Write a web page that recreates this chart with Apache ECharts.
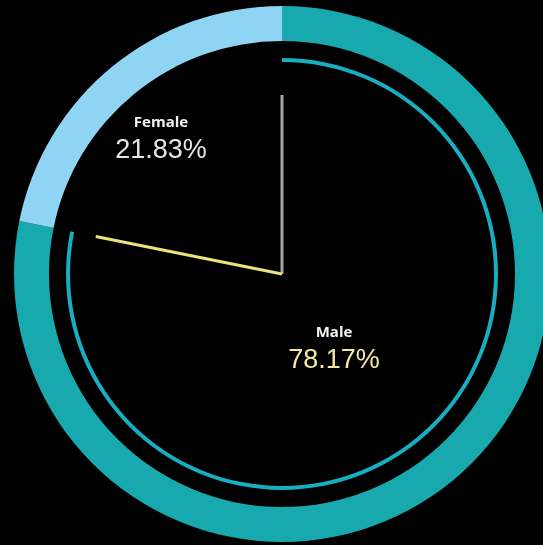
<!DOCTYPE html>
<html>
<head>
<meta charset="utf-8">
<script src="https://cdn.jsdelivr.net/npm/echarts@6/dist/echarts.min.js"></script>
<style>
  html, body { margin: 0; padding: 0; background: #000; }
  #chart { width: 543px; height: 545px; }
</style>
</head>
<body>
<div id="chart"></div>
<script>
const categories = ['Male', 'Female'];
const shares = [78.17, 21.83];
const ringColors = ['#17a9ad', '#8fd4f2'];

const center = [282, 274];

const myChart = echarts.init(document.getElementById('chart'), null, {
  renderer: 'canvas'
});

function pointerGauge(value, length, width, color) {
  return {
    type: 'gauge',
    center: center,
    radius: 216,
    startAngle: 90,
    endAngle: -270,
    min: 0,
    max: 100,
    silent: true,
    axisLine: { show: false },
    axisTick: { show: false },
    splitLine: { show: false },
    axisLabel: { show: false },
    anchor: { show: false },
    title: { show: false },
    detail: { show: false },
    pointer: {
      icon: 'rect',
      length: length,
      width: width,
      itemStyle: { color: color }
    },
    data: [{ value: value }]
  };
}

// label helper: name in bold, share underneath
function labelText(name, share, x, y, shareColor) {
  return [
    {
      type: 'text', x: x, y: y,
      style: {
        text: name, fill: '#f2f2f2', font: 'bold 15px "Open Sans"',
        align: 'center', verticalAlign: 'middle'
      }
    },
    {
      type: 'text', x: x, y: y + 28,
      style: {
        text: share.toFixed(2) + '%', fill: shareColor, font: '27px "Liberation Sans"',
        align: 'center', verticalAlign: 'middle'
      }
    }
  ];
}

const option = {
  backgroundColor: '#000',
  animation: false,
  graphic: [
    ...labelText(categories[1], shares[1], 161, 123, '#e6e6e6'),
    ...labelText(categories[0], shares[0], 334, 333, '#f4eaa2')
  ],
  series: [
    {
      type: 'pie',
      center: center,
      radius: [233, 268],
      startAngle: 90,
      clockwise: true,
      silent: true,
      label: { show: false },
      labelLine: { show: false },
      data: categories.map((name, i) => ({
        name: name,
        value: shares[i],
        itemStyle: { color: ringColors[i] }
      }))
    },
    {
      type: 'gauge',
      center: center,
      radius: 216,
      startAngle: 90,
      endAngle: -270,
      min: 0,
      max: 100,
      silent: true,
      progress: {
        show: true,
        width: 4,
        itemStyle: { color: '#16aec0' }
      },
      axisLine: { lineStyle: { width: 4, color: [[1, 'rgba(0,0,0,0)']] } },
      axisTick: { show: false },
      splitLine: { show: false },
      axisLabel: { show: false },
      pointer: { show: false },
      anchor: { show: false },
      title: { show: false },
      detail: { show: false },
      data: [{ value: shares[0] }]
    },
    pointerGauge(0, 179, 3, '#a6a6a6'),
    pointerGauge(shares[0], 190, 3, '#ece27c')
  ]
};

myChart.setOption(option);
</script>
</body>
</html>
